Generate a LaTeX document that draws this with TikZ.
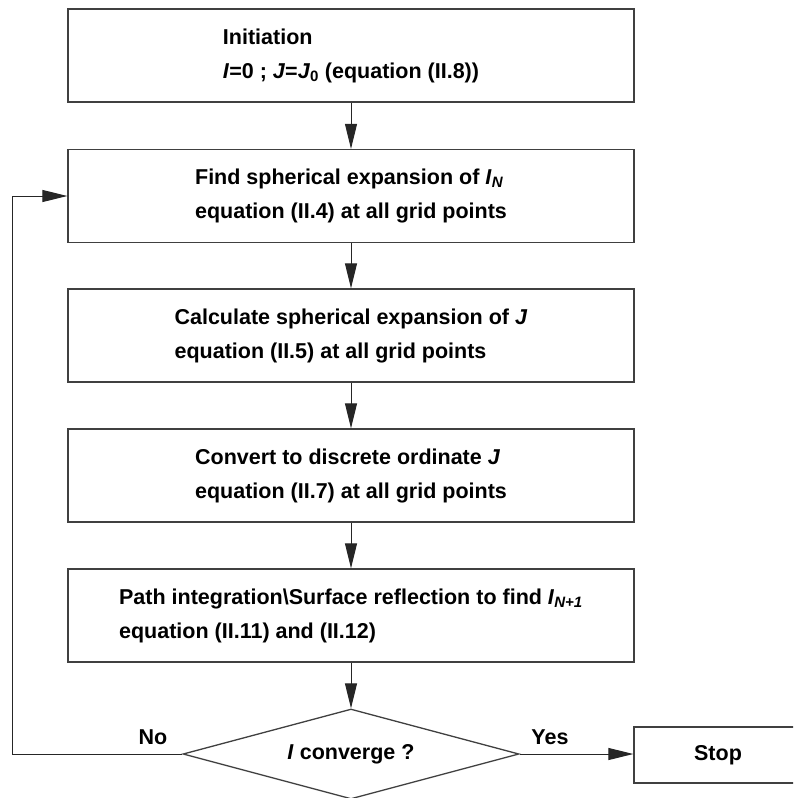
\documentclass[tikz,border=0pt]{standalone}
\usepackage{fontspec}
\setmainfont{Liberation Sans}
\usetikzlibrary{arrows.meta,shapes.geometric}

\begin{document}
\begin{tikzpicture}[x=1pt,y=-1pt,
  every node/.style={font=\fontsize{21.5}{34}\selectfont\bfseries},
  stepbox/.style={draw=black!75, line width=1.3pt, align=left,
    minimum width=566pt, minimum height=93pt, inner sep=0pt},
  decision/.style={draw=black!75, line width=1.3pt, diamond,
    shape aspect=3.73, minimum width=336pt, minimum height=90pt, inner sep=0pt},
  flow/.style={draw=black!85, line width=1pt,
    -{Triangle[length=25pt,width=12pt]}},
  tag/.style={inner sep=0pt},
]
\useasboundingbox (0,0) rectangle (793,798);
\clip (0,0) rectangle (793,798);

% process steps
\node[stepbox] (init) at (351,55.5)
  {Initiation\\ \textit{I}=0 ; \textit{J}=\textit{J}\textsubscript{0} (equation (II.8))};
\node[stepbox] (sph) at (351,196)
  {Find spherical expansion of \textit{I}\textsubscript{\textit{N}}\\ equation (II.4) at all grid points};
\node[stepbox] (calc) at (351,335.5)
  {Calculate spherical expansion of \textit{J}\\ equation (II.5) at all grid points};
\node[stepbox] (conv) at (351,475.5)
  {Convert to discrete ordinate \textit{J}\\ equation (II.7) at all grid points};
\node[stepbox] (path) at (351,615.5)
  {Path integration\textbackslash Surface reflection to find \textit{I}\textsubscript{\textit{N+1}}\\ equation (II.11) and (II.12)};

% convergence test and exit
\node[decision] (conv?) at (351,754) {\textit{I} converge ?};
\node[draw=black!75, line width=1.3pt, minimum width=168pt, minimum height=56pt,
  inner sep=0pt] (stop) at (718,755) {Stop};

\node[tag] (no) at (153,737) {No};
\node[tag] (yes) at (550,737) {Yes};

\coordinate (back) at (12,754);

% connectors
\draw[flow] (init) -- (sph);
\draw[flow] (sph) -- (calc);
\draw[flow] (calc) -- (conv);
\draw[flow] (conv) -- (path);
\draw[flow] (path) -- (conv?);
\draw[flow] (conv?.east) -- (conv?.east -| stop.west);
\draw[flow] (conv?.west) -- (back) |- (sph.west);
\end{tikzpicture}
\end{document}
